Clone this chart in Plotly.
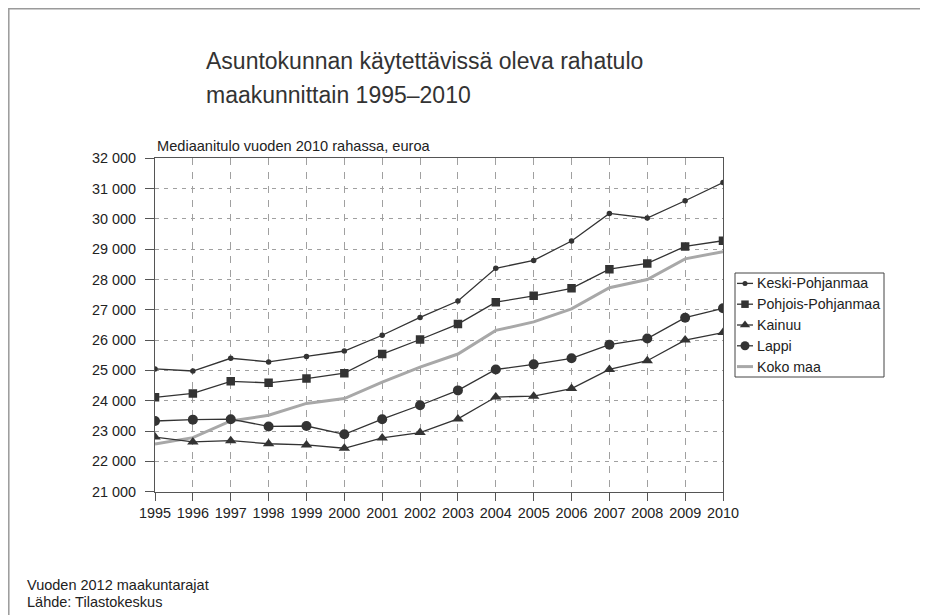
import plotly.graph_objects as go

# page body has an 8px margin, so the figure sits at (8, 8) in the 928x615 window
OFF = 8
W, H = 928 - OFF, 615 - OFF

years = list(range(1995, 2011))
keski_pohjanmaa = [25050, 24980, 25400, 25280, 25460, 25640, 26160, 26750, 27290, 28370, 28630, 29270, 30180, 30030, 30600, 31200]
pohjois_pohjanmaa = [24110, 24240, 24640, 24590, 24730, 24910, 25540, 26020, 26530, 27250, 27460, 27710, 28340, 28530, 29090, 29280]
kainuu = [22800, 22640, 22680, 22580, 22540, 22430, 22770, 22950, 23400, 24120, 24150, 24400, 25030, 25320, 26000, 26250]
lappi = [23330, 23375, 23390, 23150, 23165, 22890, 23390, 23850, 24340, 25030, 25200, 25400, 25850, 26050, 26740, 27050]
koko_maa = [22570, 22780, 23330, 23520, 23910, 24070, 24610, 25110, 25540, 26320, 26600, 27030, 27730, 28000, 28680, 28920]

series_names = ["Keski-Pohjanmaa", "Pohjois-Pohjanmaa", "Kainuu", "Lappi", "Koko maa"]
series_values = [keski_pohjanmaa, pohjois_pohjanmaa, kainuu, lappi, koko_maa]

FONT = "Liberation Sans, Arial, sans-serif"
DARK = "#333333"
TXT = "#222222"

styles = [
    dict(line=dict(color=DARK, width=1.3), marker=dict(symbol="circle", size=5.5, color=DARK)),
    dict(line=dict(color=DARK, width=1.3), marker=dict(symbol="square", size=8.5, color=DARK)),
    dict(line=dict(color=DARK, width=1.3), marker=dict(symbol="triangle-up", size=10, color=DARK)),
    dict(line=dict(color=DARK, width=1.3), marker=dict(symbol="circle", size=10, color=DARK)),
    dict(line=dict(color="#a8a8a8", width=3), marker=None),
]

def px(x):
    return (x - OFF) / W

def py(y):
    return 1 - (y - OFF) / H

fig = go.Figure()

# main series (Koko maa first so the dark lines sit on top)
order = [4, 0, 1, 2, 3]
for i in order:
    st = styles[i]
    if st["marker"] is None:
        fig.add_trace(go.Scatter(x=years, y=series_values[i], mode="lines", line=st["line"],
                                 name=series_names[i], showlegend=False, xaxis="x", yaxis="y"))
    else:
        fig.add_trace(go.Scatter(x=years, y=series_values[i], mode="lines+markers", line=st["line"],
                                 marker=st["marker"], name=series_names[i], showlegend=False,
                                 xaxis="x", yaxis="y"))

# custom legend symbols on a small helper axis
for i, name in enumerate(series_names):
    st = styles[i]
    fig.add_trace(go.Scatter(x=[0, 1], y=[i, i], mode="lines", line=st["line"],
                             showlegend=False, hoverinfo="skip", xaxis="x2", yaxis="y2"))
    if st["marker"] is not None:
        m = dict(st["marker"])
        m["size"] = max(5, m["size"] - 1)
        fig.add_trace(go.Scatter(x=[0.5], y=[i], mode="markers", marker=m,
                                 showlegend=False, hoverinfo="skip", xaxis="x2", yaxis="y2"))

plot_l, plot_r, plot_t, plot_b = 155, 723, 158.3, 491.6
leg_l, leg_r, leg_t, leg_b = 735, 884, 273, 377
row_h = (leg_b - leg_t) / 5

annotations = []
for i, name in enumerate(series_names):
    yc = leg_t + row_h * (i + 0.5)
    annotations.append(dict(x=px(755), y=py(yc), xref="paper", yref="paper", text=name,
                            showarrow=False, xanchor="left", yanchor="middle",
                            font=dict(family=FONT, size=14.2, color=TXT)))

annotations += [
    dict(x=px(204), y=py(61), xref="paper", yref="paper",
         text="Asuntokunnan käytettävissä oleva rahatulo", showarrow=False,
         xanchor="left", yanchor="middle", font=dict(family=FONT, size=23, color=DARK)),
    dict(x=px(204), y=py(95), xref="paper", yref="paper",
         text="maakunnittain 1995–2010", showarrow=False,
         xanchor="left", yanchor="middle", font=dict(family=FONT, size=23, color=DARK)),
    dict(x=px(155), y=py(145.7), xref="paper", yref="paper",
         text="Mediaanitulo vuoden 2010 rahassa, euroa", showarrow=False,
         xanchor="left", yanchor="middle", font=dict(family=FONT, size=14.6, color=TXT)),
    dict(x=px(25), y=py(585), xref="paper", yref="paper",
         text="Vuoden 2012 maakuntarajat", showarrow=False,
         xanchor="left", yanchor="middle", font=dict(family=FONT, size=14.5, color=TXT)),
    dict(x=px(25), y=py(601.5), xref="paper", yref="paper",
         text="Lähde: Tilastokeskus", showarrow=False,
         xanchor="left", yanchor="middle", font=dict(family=FONT, size=14.5, color=TXT)),
]

shapes = [
    # outer frame (only left and top edges fall inside the page)
    dict(type="rect", xref="paper", yref="paper", x0=px(8.8), x1=px(960), y0=py(640), y1=py(8.8),
         line=dict(color="#9a9a9a", width=1.5), layer="below"),
    # legend box
    dict(type="rect", xref="paper", yref="paper", x0=px(leg_l), x1=px(leg_r), y0=py(leg_b), y1=py(leg_t),
         line=dict(color="#444444", width=1)),
]

fig.update_layout(
    width=W, height=H,
    margin=dict(l=0, r=0, t=0, b=0, pad=0, autoexpand=False),
    paper_bgcolor="white", plot_bgcolor="white",
    separators=". ",
    showlegend=False,
    xaxis=dict(domain=[px(plot_l), px(plot_r)], range=[1995, 2010], tickmode="array", tickvals=years,
               showgrid=True, gridcolor="#a0a0a0", gridwidth=1, griddash="7px,7px",
               showline=True, linecolor="#555555", linewidth=1, mirror=True,
               ticks="outside", ticklen=8, tickcolor="#555555", automargin=False,
               tickfont=dict(family=FONT, size=14.4, color=TXT), zeroline=False,
               anchor="y"),
    yaxis=dict(domain=[py(plot_b), py(plot_t)], range=[21000, 32000], dtick=1000, tickformat=",d",
               showgrid=True, gridcolor="#a0a0a0", gridwidth=1, griddash="4px,5px",
               showline=True, linecolor="#555555", linewidth=1, mirror=True,
               ticks="outside", ticklen=9, tickcolor="#555555", ticklabelstandoff=6,
               automargin=False,
               tickfont=dict(family=FONT, size=14.4, color=TXT), zeroline=False,
               anchor="x"),
    xaxis2=dict(domain=[px(737), px(753)], range=[0, 1], visible=False, anchor="y2", automargin=False),
    yaxis2=dict(domain=[py(leg_b), py(leg_t)], range=[4.5, -0.5], visible=False, anchor="x2",
                automargin=False),
    annotations=annotations,
    shapes=shapes,
)

fig.write_html("out.html")
